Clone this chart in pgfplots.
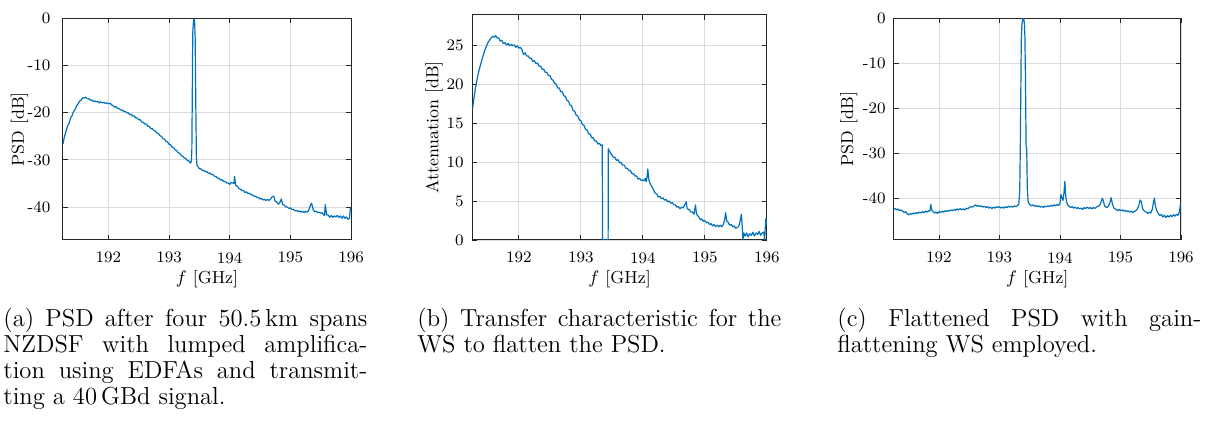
\documentclass[border=0pt]{standalone}
\usepackage{pgfplots}
\usepackage{pgfplotstable}
\pgfplotsset{compat=1.18}
\definecolor{mblue}{rgb}{0,0.447,0.741}

\pgfplotstableread{
x y
191.250 -26.6
191.275 -25.0
191.300 -23.9
191.325 -22.8
191.350 -22.2
191.375 -21.1
191.400 -20.6
191.425 -19.7
191.450 -19.3
191.475 -18.5
191.500 -18.1
191.525 -17.5
191.550 -17.3
191.575 -16.8
191.600 -16.9
191.625 -16.7
191.650 -17.0
191.675 -17.0
191.700 -17.3
191.725 -17.3
191.750 -17.6
191.775 -17.5
191.800 -17.7
191.825 -17.6
191.850 -17.9
191.875 -17.7
191.900 -17.9
191.925 -17.8
191.950 -18.0
191.975 -17.9
192.000 -18.1
192.025 -18.0
192.050 -18.3
192.075 -18.5
192.100 -18.8
192.125 -18.7
192.150 -19.1
192.175 -19.1
192.200 -19.4
192.225 -19.4
192.250 -19.7
192.275 -19.7
192.300 -20.0
192.325 -20.0
192.350 -20.4
192.375 -20.3
192.400 -20.7
192.425 -20.7
192.450 -21.1
192.475 -21.1
192.500 -21.5
192.525 -21.5
192.550 -22.0
192.575 -22.0
192.600 -22.4
192.625 -22.4
192.650 -22.9
192.675 -22.9
192.700 -23.4
192.725 -23.4
192.750 -23.8
192.775 -23.9
192.800 -24.3
192.825 -24.4
192.850 -24.9
192.875 -25.0
192.900 -25.5
192.925 -25.6
192.950 -26.1
192.975 -26.2
193.000 -26.7
193.025 -26.8
193.050 -27.3
193.075 -27.4
193.100 -27.9
193.125 -28.0
193.150 -28.5
193.175 -28.6
193.200 -29.1
193.225 -29.2
193.250 -29.6
193.275 -29.7
193.300 -30.1
193.325 -30.2
193.350 -30.7
193.365 -30.4
193.375 -28.0
193.385 -12.0
193.390 -3.0
193.400 -1.0
193.410 0.0
193.420 -0.5
193.430 -4.0
193.440 -18.0
193.450 -29.5
193.460 -31.2
193.475 -31.4
193.500 -31.9
193.525 -31.9
193.550 -32.3
193.575 -32.2
193.600 -32.5
193.625 -32.5
193.650 -32.9
193.675 -32.8
193.700 -33.1
193.725 -33.1
193.750 -33.5
193.775 -33.5
193.800 -33.9
193.825 -33.9
193.850 -34.3
193.875 -34.2
193.900 -34.6
193.925 -34.6
193.950 -34.9
193.975 -34.9
194.000 -35.2
194.025 -34.8
194.050 -34.9
194.070 -35.0
194.080 -33.5
194.090 -34.6
194.100 -35.4
194.125 -35.6
194.150 -36.1
194.175 -36.2
194.200 -36.5
194.225 -36.5
194.250 -36.9
194.275 -36.8
194.300 -37.1
194.325 -37.1
194.350 -37.4
194.375 -37.4
194.400 -37.7
194.425 -37.7
194.450 -38.0
194.475 -38.0
194.500 -38.3
194.525 -38.2
194.550 -38.5
194.575 -38.4
194.600 -38.6
194.625 -38.4
194.650 -38.6
194.675 -38.3
194.700 -37.8
194.725 -37.7
194.750 -38.8
194.775 -38.9
194.800 -39.4
194.825 -39.1
194.850 -38.3
194.875 -39.5
194.900 -39.6
194.925 -40.0
194.950 -40.0
194.975 -40.3
195.000 -40.2
195.025 -40.5
195.050 -40.5
195.075 -40.8
195.100 -40.7
195.125 -41.0
195.150 -40.8
195.175 -41.1
195.200 -40.9
195.225 -41.2
195.250 -40.9
195.275 -41.1
195.300 -40.8
195.325 -39.8
195.350 -39.2
195.375 -40.5
195.400 -41.0
195.425 -40.9
195.450 -41.2
195.475 -41.1
195.500 -41.3
195.525 -41.2
195.550 -41.7
195.565 -41.8
195.575 -39.5
195.590 -40.8
195.600 -41.7
195.625 -41.7
195.650 -42.2
195.675 -41.8
195.700 -42.2
195.725 -41.9
195.750 -42.1
195.775 -41.8
195.800 -42.2
195.825 -41.9
195.850 -42.4
195.875 -41.9
195.900 -42.4
195.925 -42.1
195.950 -42.6
195.975 -42.4
195.990 -40.2
196.000 -40.8
}\psdA

\pgfplotstableread{
x y
191.250 16.7
191.275 18.2
191.300 19.5
191.325 20.6
191.350 21.5
191.375 22.3
191.400 23.0
191.425 23.7
191.450 24.3
191.475 24.8
191.500 25.3
191.525 25.6
191.550 25.9
191.575 26.1
191.600 26.0
191.625 26.2
191.650 25.9
191.675 25.9
191.700 25.5
191.725 25.6
191.750 25.2
191.775 25.3
191.800 25.0
191.825 25.2
191.850 24.9
191.875 25.1
191.900 24.9
191.925 25.0
191.950 24.7
191.975 24.9
192.000 24.6
192.025 24.7
192.050 24.4
192.075 23.8
192.100 24.0
192.125 23.6
192.150 23.6
192.175 23.3
192.200 23.3
192.225 22.9
192.250 23.0
192.275 22.6
192.300 22.7
192.325 22.3
192.350 22.3
192.375 21.9
192.400 21.9
192.425 21.5
192.450 21.5
192.475 21.1
192.500 21.1
192.525 20.6
192.550 20.5
192.575 20.1
192.600 20.0
192.625 19.5
192.650 19.5
192.675 19.0
192.700 19.0
192.725 18.5
192.750 18.4
192.775 17.9
192.800 17.8
192.825 17.3
192.850 17.2
192.875 16.6
192.900 16.5
192.925 16.0
192.950 15.9
192.975 15.4
193.000 15.3
193.025 14.8
193.050 14.7
193.075 14.2
193.100 14.1
193.125 13.6
193.150 13.6
193.175 13.1
193.200 13.1
193.225 12.7
193.250 12.7
193.275 12.3
193.300 12.4
193.325 12.1
193.345 12.2
193.350 0.0
193.440 0.0
193.442 11.7
193.460 11.4
193.475 11.2
193.500 10.9
193.525 10.6
193.550 10.6
193.575 10.2
193.600 10.3
193.625 9.9
193.650 9.9
193.675 9.6
193.700 9.6
193.725 9.2
193.750 9.2
193.775 8.9
193.800 8.9
193.825 8.5
193.850 8.5
193.875 8.2
193.900 8.2
193.925 7.8
193.950 7.9
193.975 7.6
194.000 7.7
194.025 7.6
194.040 7.9
194.055 7.5
194.070 8.2
194.080 9.1
194.090 8.2
194.100 7.6
194.125 7.1
194.150 6.8
194.175 6.4
194.200 6.0
194.225 5.9
194.250 5.5
194.275 5.6
194.300 5.3
194.325 5.4
194.350 5.1
194.375 5.2
194.400 4.9
194.425 5.0
194.450 4.7
194.475 4.8
194.500 4.5
194.525 4.5
194.550 4.2
194.575 4.3
194.600 4.0
194.625 4.2
194.650 4.1
194.675 4.5
194.700 4.9
194.715 4.0
194.750 3.9
194.775 3.6
194.800 3.6
194.825 3.3
194.850 4.5
194.865 3.3
194.900 3.0
194.925 2.6
194.950 2.7
194.975 2.4
195.000 2.5
195.025 2.2
195.050 2.3
195.075 2.0
195.100 2.1
195.125 1.8
195.150 2.0
195.175 1.7
195.200 1.9
195.225 1.7
195.250 1.9
195.275 1.7
195.300 2.0
195.320 2.6
195.335 3.5
195.355 2.4
195.375 2.3
195.400 1.9
195.425 2.0
195.450 1.7
195.475 1.8
195.500 1.5
195.525 1.6
195.550 1.8
195.575 2.6
195.590 3.3
195.605 1.5
195.615 0.0
195.630 0.9
195.650 0.5
195.675 0.9
195.700 0.4
195.725 0.8
195.750 0.6
195.775 1.0
195.800 0.5
195.825 0.9
195.850 0.7
195.875 1.1
195.900 0.6
195.925 0.9
195.950 1.0
195.965 0.0
195.975 1.5
195.985 2.7
196.000 1.9
}\attB

\pgfplotstableread{
x y
191.250 -42.5
191.275 -42.3
191.300 -42.6
191.325 -42.4
191.350 -42.8
191.375 -42.6
191.400 -42.9
191.425 -43.2
191.450 -43.0
191.475 -43.5
191.500 -43.7
191.525 -43.4
191.550 -43.6
191.575 -43.3
191.600 -43.5
191.625 -43.2
191.650 -43.4
191.675 -43.1
191.700 -43.3
191.725 -43.0
191.750 -43.2
191.775 -42.9
191.800 -43.1
191.825 -42.8
191.850 -42.9
191.865 -41.4
191.880 -42.6
191.900 -43.0
191.925 -43.3
191.950 -43.1
191.975 -43.4
192.000 -43.0
192.025 -43.2
192.050 -42.9
192.075 -43.1
192.100 -42.8
192.125 -43.0
192.150 -42.7
192.175 -42.9
192.200 -42.6
192.225 -42.8
192.250 -42.5
192.275 -42.7
192.300 -42.4
192.325 -42.6
192.350 -42.3
192.375 -42.6
192.400 -42.4
192.425 -42.6
192.450 -42.2
192.475 -42.4
192.500 -42.1
192.525 -41.9
192.550 -42.0
192.575 -41.8
192.600 -41.5
192.625 -41.8
192.650 -41.6
192.675 -41.9
192.700 -41.7
192.725 -42.0
192.750 -41.8
192.775 -42.1
192.800 -41.9
192.825 -42.2
192.850 -42.0
192.875 -42.3
192.900 -42.0
192.925 -42.2
192.950 -41.9
192.975 -42.1
193.000 -41.9
193.025 -42.2
193.050 -42.0
193.075 -42.2
193.100 -41.9
193.125 -42.1
193.150 -41.8
193.175 -42.0
193.200 -41.8
193.225 -42.0
193.250 -41.7
193.275 -41.9
193.300 -41.6
193.320 -41.3
193.335 -38.0
193.345 -28.0
193.350 -20.0
193.360 -5.0
193.370 -1.5
193.385 0.0
193.400 0.0
193.410 -1.0
193.420 -4.0
193.430 -14.0
193.440 -28.5
193.450 -29.0
193.460 -38.0
193.475 -41.0
193.500 -41.4
193.525 -41.7
193.550 -41.5
193.575 -41.8
193.600 -41.6
193.625 -41.9
193.650 -41.7
193.675 -42.0
193.700 -41.8
193.725 -42.1
193.750 -41.8
193.775 -41.9
193.800 -41.7
193.825 -41.9
193.850 -41.6
193.875 -41.8
193.900 -41.5
193.925 -41.7
193.950 -41.4
193.975 -41.6
194.000 -41.2
194.015 -39.2
194.035 -40.0
194.050 -40.5
194.065 -39.0
194.080 -36.3
194.095 -39.5
194.110 -40.8
194.125 -41.5
194.150 -41.8
194.175 -42.1
194.200 -41.9
194.225 -42.2
194.250 -42.0
194.275 -42.3
194.300 -42.1
194.325 -42.4
194.350 -42.2
194.375 -42.5
194.400 -42.1
194.425 -42.3
194.450 -42.0
194.475 -42.3
194.500 -42.1
194.525 -42.4
194.550 -42.1
194.575 -42.3
194.600 -42.0
194.625 -41.8
194.650 -41.7
194.675 -41.0
194.700 -40.0
194.720 -40.8
194.740 -41.8
194.775 -42.1
194.800 -41.8
194.825 -41.0
194.845 -39.9
194.865 -41.2
194.890 -42.2
194.925 -42.5
194.950 -42.8
194.975 -42.5
195.000 -42.8
195.025 -42.6
195.050 -42.9
195.075 -42.7
195.100 -43.0
195.125 -42.8
195.150 -43.1
195.175 -42.9
195.200 -43.2
195.225 -43.0
195.250 -42.8
195.275 -42.5
195.300 -41.8
195.325 -40.4
195.345 -40.8
195.365 -42.3
195.390 -42.8
195.425 -43.1
195.450 -43.4
195.475 -43.1
195.500 -43.3
195.525 -42.5
195.545 -40.9
195.560 -40.0
195.575 -41.6
195.600 -42.8
195.625 -43.4
195.650 -43.9
195.675 -43.6
195.700 -44.2
195.725 -43.8
195.750 -44.3
195.775 -43.9
195.800 -44.2
195.825 -43.8
195.850 -44.1
195.875 -43.7
195.900 -44.0
195.925 -43.6
195.950 -43.8
195.975 -43.0
195.990 -41.3
196.000 -41.5
}\psdC

\pgfplotsset{
  mstyle/.style={
    scale only axis,
    xmin=191.25, xmax=196,
    xtick={192,193,194,195,196},
    xticklabels={192,193,194,195,196},
    tick align=inside,
    tick pos=both,
    major tick length=2.5pt,
    grid=major,
    major grid style={black!14, line width=0.4pt},
    axis line style={black!85, line width=0.5pt},
    every tick/.style={black!85, line width=0.4pt},
    tick label style={font=\fontsize{8}{9.6}\selectfont},
    label style={font=\fontsize{8.7}{10.4}\selectfont},
    xticklabel style={yshift=-2.6pt},
    xlabel={$f$ [GHz]},
    xlabel style={at={(axis description cs:0.5,0)}, anchor=base, yshift=-22pt},
  },
  mline/.style={mblue, line width=0.6pt, line join=round},
}

\begin{document}
\begin{tikzpicture}
\useasboundingbox (0,0) rectangle (603.5pt,210.5pt);

\begin{axis}[mstyle,
  at={(31.5pt,90.5pt)}, anchor=south west,
  width=144pt, height=110.75pt,
  ymin=-47, ymax=0,
  ytick={-40,-30,-20,-10,0},
  yticklabels={-40,-30,-20,-10,0},
  yticklabel style={xshift=-2.8pt},
  ylabel={PSD [dB]},
  ylabel style={at={([xshift=-19.5pt]axis description cs:0,0.5)}, anchor=base},
]
\addplot[mline] table[x=x,y=y] {\psdA};
\end{axis}

\begin{axis}[mstyle,
  at={(236.2pt,90.5pt)}, anchor=south west,
  width=147.2pt, height=112.5pt,
  ymin=0, ymax=28.85,
  ytick={0,5,10,15,20,25},
  yticklabels={0,5,10,15,20,25},
  yticklabel style={xshift=-0.8pt},
  ylabel={Attenuation [dB]},
  ylabel style={at={([xshift=-17pt]axis description cs:0,0.5)}, anchor=base},
]
\addplot[mline] table[x=x,y=y] {\attB};
\end{axis}

\begin{axis}[mstyle,
  at={(446.8pt,90.5pt)}, anchor=south west,
  width=143.7pt, height=110.9pt,
  ymin=-49.3, ymax=0,
  ytick={-40,-30,-20,-10,0},
  yticklabels={-40,-30,-20,-10,0},
  yticklabel style={xshift=-0.5pt},
  ylabel={PSD [dB]},
  ylabel style={at={([xshift=-20.3pt]axis description cs:0,0.5)}, anchor=base},
]
\addplot[mline] table[x=x,y=y] {\psdC};
\end{axis}

\begin{scope}[every node/.style={anchor=base west, inner sep=0pt, text width=182pt, align=justify, font=\fontsize{12.3}{12.9}\selectfont}]
\node at (1.5pt,47pt) {(a) PSD after four 50.5\,km spans\linebreak NZDSF with lumped amplifica-\linebreak tion using EDFAs and transmit-\linebreak ting a 40\,GBd signal.};
\node at (208.5pt,47pt) {(b) Transfer characteristic for the\linebreak WS to flatten the PSD.};
\node at (418.5pt,47pt) {(c) Flattened PSD with gain-\linebreak flattening WS employed.};
\end{scope}
\end{tikzpicture}
\end{document}
